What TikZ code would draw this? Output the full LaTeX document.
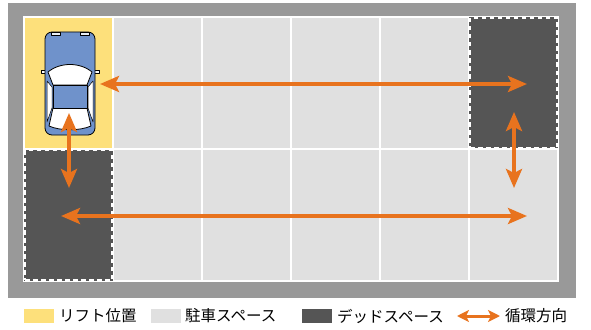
\documentclass[tikz,border=0pt]{standalone}
\usepackage{fontspec}
\setmainfont{Noto Sans CJK JP}
\usetikzlibrary{arrows.meta}

\definecolor{framegray}{HTML}{999999}
\definecolor{parkgray}{HTML}{E0E0E0}
\definecolor{deadgray}{HTML}{555555}
\definecolor{liftyellow}{HTML}{FDE07B}
\definecolor{flow}{HTML}{E8731E}
\definecolor{carblue}{HTML}{6F92CB}

\begin{document}
\begin{tikzpicture}[x=1pt,y=-1pt,
    park/.style={fill=parkgray, inner sep=0pt, minimum width=87pt, minimum height=130pt},
    lift/.style={park, fill=liftyellow},
    dead/.style={fill=deadgray, draw=white, line width=2pt, dash pattern=on 4.5pt off 3.5pt,
                 inner sep=0pt, minimum width=87pt, minimum height=130pt},
    both ways/.style={draw=flow, line width=4pt, {Stealth[length=19pt,width=16pt,inset=4pt]}-{Stealth[length=19pt,width=16pt,inset=4pt]}},
    key/.style={inner sep=0pt, minimum width=30pt, minimum height=14pt},
    keytext/.style={anchor=west, inner sep=0pt, font=\fontsize{15.5pt}{16pt}\selectfont}]
  \useasboundingbox (0,0) rectangle (591,329);

  % frame and white grid lines
  \fill[framegray] (8,3) rectangle (576,298);
  \fill[white] (23,16) rectangle (559,282);

  % parking cells
  \foreach \r in {0,1}
    \foreach \c in {0,...,5}
      \node[park] (cell-\r-\c) at (68.5+89*\c, 83+132*\r) {};
  \node[lift] (lift) at (cell-0-0) {};
  \fill[deadgray] (24,150) rectangle (113,281);
  \fill[deadgray] (469,17) rectangle (558,148);
  \node[dead] (dead-a) at (cell-1-0) {};
  \node[dead] (dead-b) at (cell-0-5) {};

  % car seen from above
  \begin{scope}[shift={(70,84)}, line width=0.8pt, line join=round]
    \filldraw[fill=white] (-29,-14) rectangle (-24,-11);
    \filldraw[fill=white] (24,-14) rectangle (29,-11);
    \filldraw[fill=carblue, rounded corners=7pt] (-25,-52) rectangle (25,51);
    \filldraw[fill=white!85!carblue, line width=0.5pt] (-19,-52) rectangle (-10,-49);
    \filldraw[fill=white!85!carblue, line width=0.5pt] (10,-52) rectangle (19,-49);
    \filldraw[fill=white] (-22,-12) .. controls (-10,-22) and (10,-22) .. (22,-12)
      -- (17,1) -- (-17,1) -- cycle;
    \filldraw[fill=white] (-17,24) -- (17,24) -- (21,42)
      .. controls (10,47) and (-10,47) .. (-21,42) -- cycle;
    \filldraw[fill=white, line width=0.5pt] (-23,-3) -- (-18,3) -- (-18,24) -- (-23,38) -- cycle;
    \filldraw[fill=white, line width=0.5pt] (23,-3) -- (18,3) -- (18,24) -- (23,38) -- cycle;
    \filldraw[fill=carblue] (-17,1) rectangle (17,24);
  \end{scope}

  % circulation paths
  \coordinate (top-l) at (100,84);
  \coordinate (top-r) at (527,84);
  \coordinate (left-t) at (69,113);
  \coordinate (left-b) at (69,188);
  \coordinate (bot-l) at (61,216);
  \coordinate (bot-r) at (527,216);
  \coordinate (right-t) at (514,112);
  \coordinate (right-b) at (514,188);
  \draw[both ways] (top-l) -- (top-r);
  \draw[both ways] (left-t) -- (left-b);
  \draw[both ways] (bot-l) -- (bot-r);
  \draw[both ways] (right-t) -- (right-b);

  % legend
  \node[key, fill=liftyellow] (key-lift) at (39,316) {};
  \node[keytext] (txt-lift) at (59,316) {リフト位置};
  \node[key, fill=parkgray] (key-park) at (166,316) {};
  \node[keytext] (txt-park) at (185,316) {駐車スペース};
  \node[key, fill=deadgray] (key-dead) at (316.5,316) {};
  \node[keytext] (txt-dead) at (337,316) {デッドスペース};
  \coordinate (key-flow-l) at (457,316);
  \coordinate (key-flow-r) at (500,316);
  \draw[draw=flow, line width=3pt, {Stealth[length=12pt,width=12pt,inset=3pt]}-{Stealth[length=12pt,width=12pt,inset=3pt]}]
    (key-flow-l) -- (key-flow-r);
  \node[keytext] (txt-flow) at (505,316) {循環方向};
\end{tikzpicture}
\end{document}
